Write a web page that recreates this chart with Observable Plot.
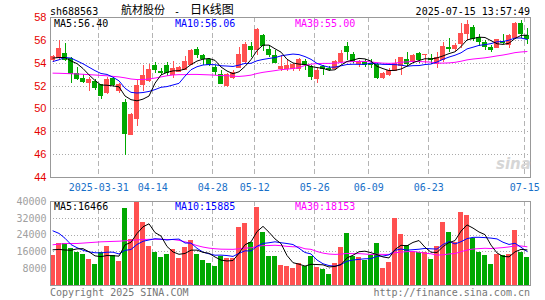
<!DOCTYPE html>
<html><head><meta charset="utf-8">
<script src="https://cdn.jsdelivr.net/npm/d3@7"></script>
<script src="https://cdn.jsdelivr.net/npm/@observablehq/plot@0.6"></script>
<style>
body{margin:0;background:#fff;}
#wrap{position:relative;width:545px;height:300px;overflow:hidden;font-family:"DejaVu Sans Mono",monospace;font-size:10px;}
#wrap svg{position:absolute;left:0;}
.t{position:absolute;white-space:pre;line-height:10px;font-size:10px;font-family:"DejaVu Sans Mono",monospace;}
</style></head><body><div id="wrap"></div>
<script>
const dates = ["2025-03-19","2025-03-20","2025-03-21","2025-03-24","2025-03-25","2025-03-26","2025-03-27","2025-03-28",
"2025-03-31","2025-04-01","2025-04-02","2025-04-03","2025-04-07","2025-04-08","2025-04-09","2025-04-10","2025-04-11",
"2025-04-14","2025-04-15","2025-04-16","2025-04-17","2025-04-18","2025-04-21","2025-04-22","2025-04-23","2025-04-24","2025-04-25",
"2025-04-28","2025-04-29","2025-04-30","2025-05-06","2025-05-07","2025-05-08","2025-05-09",
"2025-05-12","2025-05-13","2025-05-14","2025-05-15","2025-05-16","2025-05-19","2025-05-20","2025-05-21","2025-05-22","2025-05-23",
"2025-05-26","2025-05-27","2025-05-28","2025-05-29","2025-05-30","2025-06-03","2025-06-04","2025-06-05","2025-06-06",
"2025-06-09","2025-06-10","2025-06-11","2025-06-12","2025-06-13","2025-06-16","2025-06-17","2025-06-18","2025-06-19","2025-06-20",
"2025-06-23","2025-06-24","2025-06-25","2025-06-26","2025-06-27","2025-06-30","2025-07-01","2025-07-02","2025-07-03","2025-07-04",
"2025-07-07","2025-07-08","2025-07-09","2025-07-10","2025-07-11","2025-07-14","2025-07-15"];
const open  = [54.25,54.44,54.82,54.4,53.07,52.65,52.25,52.35,52.1,51.4,52.64,51.53,50.5,47.76,49.1,52.1,52.45,53.8,53.2,53.74,
52.95,53.27,53.45,53.86,55.17,54.6,54.24,53.6,52.93,52.05,52.69,53.56,54.1,55.46,55.2,56.36,55.17,54.6,53.51,53.51,
53.51,53.51,54.15,53.65,52.64,53.65,53.5,53.51,54.09,55.4,54.68,53.95,54.09,53.95,53.86,52.69,52.93,53.36,53.8,54.24,
54.09,54.82,54.7,54.35,53.95,54.24,55.3,55.26,55.7,56.57,57.1,56.22,55.79,55.3,55.35,55.9,55.61,56.22,57.39,56.36];
const high  = [54.7,55.96,55.7,54.5,53.65,53.05,52.78,52.6,52.15,52.78,52.78,52.25,50.8,49.63,52.5,53.8,53.9,54.09,53.5,54.04,
54.18,53.7,54.6,55.2,55.4,54.8,54.4,53.8,53.4,53.1,53.4,55.4,55.8,55.84,57.0,56.5,55.55,55.1,54.68,54.3,
54.0,54.4,54.3,53.8,53.5,53.8,53.7,54.2,55.1,55.84,54.9,54.25,54.3,54.3,54.0,53.2,53.5,54.3,54.53,54.91,
54.8,54.9,54.8,54.8,54.96,55.84,56.14,55.75,57.45,57.74,57.3,56.5,56.0,55.55,56.1,56.5,56.5,57.6,57.74,57.0];
const low   = [54.1,54.3,54.15,52.25,52.5,52.2,51.5,51.6,50.85,51.25,51.96,51.32,45.9,47.68,48.45,51.55,52.35,53.13,52.9,52.8,
52.65,53.2,53.36,53.8,54.4,53.8,53.7,52.93,52.1,51.9,52.6,53.5,54.0,54.53,54.7,55.0,54.53,53.95,53.27,53.27,
53.3,53.3,53.4,52.49,52.2,52.93,53.3,53.45,53.95,54.24,53.95,53.6,53.6,53.5,52.6,52.6,52.8,53.3,52.93,53.74,
54.0,53.95,53.95,53.9,53.56,54.1,54.96,55.0,55.26,56.0,55.9,55.5,55.1,54.96,55.26,55.6,55.26,56.1,56.14,55.6];
const close = [54.55,55.26,54.3,53.07,52.64,52.4,52.5,51.82,51.1,52.55,52.1,52.1,47.8,49.5,52.05,52.84,53.45,53.42,53.12,53.16,
53.5,53.56,54.09,55.11,54.68,54.33,53.86,53.27,52.2,52.93,53.13,54.73,55.6,55.17,56.92,55.49,54.73,54.0,53.71,53.8,
53.86,54.24,53.86,52.78,53.36,53.5,53.4,54.09,54.82,54.96,54.09,54.15,53.86,53.86,52.69,53.07,53.3,53.95,54.44,53.95,
54.59,54.24,54.75,54.3,54.44,55.46,55.25,55.55,56.57,57.36,56.08,55.84,55.4,55.2,55.99,55.8,56.36,57.45,56.57,56.08];
const volume = [14300,19800,19800,17400,15900,14800,12400,10000,15600,18600,14300,11400,36800,21700,39700,30100,18600,15900,13500,14800,
17100,13000,17900,21400,14800,11900,10600,9200,14000,12700,13000,27800,29700,20600,37300,25400,13800,13800,9500,9000,
8200,10300,9200,13800,8400,7500,5200,10600,17900,24600,13800,13500,11900,14300,20100,8200,11100,32000,24300,19000,
16200,15600,15900,12400,18600,30100,25200,20600,34900,33500,22500,15900,14300,10000,14800,14300,14800,26200,15900,13500];
const ma5Early  = [54.45,54.5,54.5,54.2];
const ma10Early = [54.15,54.3,54.5,54.45,54.2,53.95,53.65,53.35,53.1];
const ma30Early = [53.13,53.12,53.1,53.08,53.06,53.03,53.0,52.97,52.93,52.9,52.85,52.8,52.72,52.62,52.57,52.57,52.62,52.7,52.8,52.9,
52.97,53.0,53.0,53.02,53.02,53.0,52.98,52.95,52.92];
const vma5Early  = [17000,17200,16900,16800];
const vma10Early = [26000,24800,22500,19500,18000,16800,16000,15600,15500];
const vma30Early = [19400,19700,20000,20000,20000,20200,20400,20600,20800,20900,21000,21100,21300,21500,21700,21900,22000,22000,22000,21900,
21900,21500,20800,20000,19000,18300,17800,17500,17300];
const tickDates  = ["2025-03-31","2025-04-14","2025-04-28","2025-05-12","2025-05-26","2025-06-09","2025-06-23","2025-07-15"];
const tickLabels = ["2025-03-31","04-14","04-28","05-12","05-26","06-09","06-23","07-15"];
const priceTicks = [44,46,48,50,52,54,56,58];
const volTicks = [8000,16000,24000,32000,40000];

const RED = "#ff5050", GREEN = "#00a800";
function movingAvg(vals, n, early) {
  return vals.map((v, i) => i < n - 1 ? early[i] : d3.mean(vals.slice(i - n + 1, i + 1)));
}
const ma5 = movingAvg(close, 5, ma5Early), ma10 = movingAvg(close, 10, ma10Early), ma30 = movingAvg(close, 30, ma30Early);
const vma5 = movingAvg(volume, 5, vma5Early), vma10 = movingAvg(volume, 10, vma10Early), vma30 = movingAvg(volume, 30, vma30Early);
const bars = dates.map((d, i) => ({i, o: open[i], h: high[i], l: low[i], c: close[i], v: volume[i],
  col: close[i] >= open[i] ? RED : GREEN, ma5: ma5[i], ma10: ma10[i], ma30: ma30[i],
  vma5: vma5[i], vma10: vma10[i], vma30: vma30[i]}));
const tickPos = tickDates.map(d => dates.indexOf(d) - 0.37);
const labelOf = new Map(tickPos.map((p, j) => [p, tickLabels[j]]));
const xdom = [-0.417, dates.length - 0.417];

const priceChart = Plot.plot({
  width: 545, height: 195, marginLeft: 50, marginRight: 15, marginTop: 17, marginBottom: 18,
  x: {type: "linear", domain: xdom},
  y: {domain: [44, 58]},
  color: {type: "identity"},
  style: {background: "transparent", fontFamily: "DejaVu Sans Mono", fontSize: "10px"},
  marks: [
    Plot.ruleY(priceTicks.slice(1, -1), {stroke: "#aaa", strokeDasharray: "1,2", shapeRendering: "crispEdges"}),
    Plot.ruleX(tickPos, {stroke: "#b4b4b4", strokeDasharray: "5,3", shapeRendering: "crispEdges"}),
    Plot.frame({stroke: "#999", shapeRendering: "crispEdges"}),
    Plot.axisY(priceTicks, {tickSize: 0, tickPadding: 4, color: "#e60000", fontFamily: "Liberation Sans", fontSize: 11, label: null, tickFormat: d => String(d)}),
    Plot.axisX(tickPos, {tickSize: 0, tickPadding: 6, color: "#1870c8", fontFamily: "DejaVu Sans Mono", fontSize: 10, label: null, tickFormat: d => labelOf.get(d)}),
    Plot.ruleX(bars, {x: "i", y1: "l", y2: "h", stroke: "col", shapeRendering: "crispEdges"}),
    Plot.rect(bars, {x1: d => d.i - 0.3, x2: d => d.i + 0.3, y1: "o", y2: "c", fill: "col", stroke: "col", strokeWidth: 1, shapeRendering: "crispEdges"}),
    Plot.line(bars, {x: "i", y: "ma30", stroke: "#ff00ff", strokeWidth: 1}),
    Plot.line(bars, {x: "i", y: "ma10", stroke: "#0000ff", strokeWidth: 1}),
    Plot.line(bars, {x: "i", y: "ma5", stroke: "#000", strokeWidth: 1})
  ]
});
priceChart.style.top = "0px";

const volChart = Plot.plot({
  width: 545, height: 105, marginLeft: 50, marginRight: 15, marginTop: 6, marginBottom: 15,
  x: {type: "linear", domain: xdom, axis: null},
  y: {domain: [0, 40000]},
  color: {type: "identity"},
  style: {background: "transparent", fontFamily: "DejaVu Sans Mono", fontSize: "10px"},
  marks: [
    Plot.ruleY(volTicks.slice(0, -1), {stroke: "#aaa", strokeDasharray: "1,2", shapeRendering: "crispEdges"}),
    Plot.ruleX(tickPos, {stroke: "#b4b4b4", strokeDasharray: "5,3", shapeRendering: "crispEdges"}),
    Plot.rectY(bars, {x1: d => d.i - 0.42, x2: d => d.i + 0.42, y: "v", fill: "col", shapeRendering: "crispEdges"}),
    Plot.frame({stroke: "#999", shapeRendering: "crispEdges"}),
    Plot.axisY(volTicks, {tickSize: 0, tickPadding: 4, color: "#a0a0a0", fontFamily: "DejaVu Sans Mono", fontSize: 10, label: null, tickFormat: d => String(d)}),
    Plot.line(bars, {x: "i", y: "vma30", stroke: "#ff00ff", strokeWidth: 1}),
    Plot.line(bars, {x: "i", y: "vma10", stroke: "#0000ff", strokeWidth: 1}),
    Plot.line(bars, {x: "i", y: "vma5", stroke: "#000", strokeWidth: 1})
  ]
});
volChart.style.top = "195px";

const wrap = document.getElementById("wrap");
wrap.appendChild(priceChart);
wrap.appendChild(volChart);

function txt(s, x, baseline, color, extra) {
  const el = document.createElement("div");
  el.className = "t";
  el.textContent = s;
  el.style.left = x + "px";
  el.style.top = (baseline - 8.5) + "px";
  el.style.color = color;
  if (extra) Object.assign(el.style, extra);
  wrap.appendChild(el);
  return el;
}
function txtR(s, right, baseline, color) {
  const el = txt(s, 0, baseline, color);
  el.style.left = "auto";
  el.style.right = (545 - right) + "px";
  return el;
}
const cjk = {fontFamily: "'Noto Sans CJK SC'", fontSize: "11px", lineHeight: "12px", top: "3px"};
txt("sh688563", 50, 15, "#000");
txt("航材股份", 121, 15, "#000", cjk);
txt("-", 174, 15, "#000");
txt("日K线图", 190, 15, "#000", {...cjk, fontSize: "12px", top: "2.5px"});
txtR("2025-07-15 13:57:49", 530, 15, "#000");
txt("MA5:56.40", 54, 27, "#000");
txt("MA10:56.06", 175, 27, "#0000ff");
txt("MA30:55.00", 295, 27, "#ff00ff");
txt("MA5:16466", 54, 210, "#000");
txt("MA10:15885", 175, 210, "#0000ff");
txt("MA30:18153", 295, 210, "#ff00ff");
txt("Copyright 2025 SINA.COM", 50, 296, "#777");
txtR("http://finance.sina.com.cn", 530, 296, "#777");
txt("sina", 496, 170, "#d6d6d6", {fontFamily: "'DejaVu Sans'", fontStyle: "italic", fontWeight: "bold", fontSize: "15px", lineHeight: "15px", top: "157px"});
</script></body></html>
